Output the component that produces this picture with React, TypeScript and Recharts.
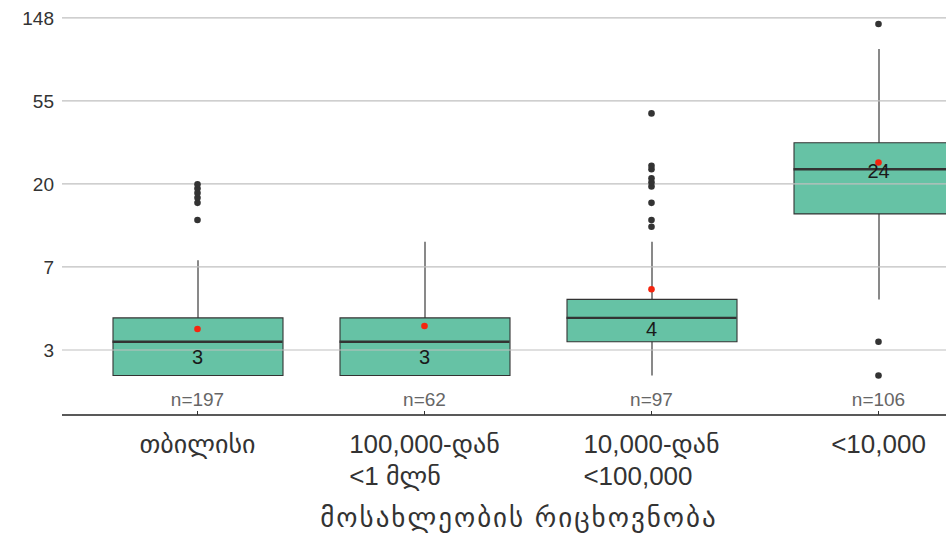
import {
  ComposedChart,
  Bar,
  Scatter,
  XAxis,
  YAxis,
  ReferenceLine,
  Label,
} from "recharts";

// categories (line breaks as in the picture)
const categories = ["თბილისი", "100,000-დან\n<1 მლნ", "10,000-დან\n<100,000", "<10,000"];
const counts = [197, 62, 97, 106];

// box statistics
const whiskerLow = [2, 2, 2, 5];
const q1 = [2, 2, 3, 14];
const medians = [3, 3, 4, 24];
const q3 = [4, 4, 5, 33];
const whiskerHigh = [8, 10, 10, 102];
const means = [3.5, 3.63, 5.65, 26];

const outlierCats = [0, 0, 0, 0, 0, 0, 2, 2, 2, 2, 2, 2, 2, 2, 2, 3, 3, 3];
const outlierVals = [13, 16, 17, 18, 19, 20, 12, 13, 16, 19.5, 20.5, 21.5, 24, 25, 47, 2, 3, 138];

// e^1 .. e^5, shown rounded
const yTicks = [2.718, 7.389, 20.09, 54.6, 148.4];

const FONT = '"Liberation Sans", "DejaVu Sans", sans-serif';
const BOX_W = 170;

const table = categories.map((name, i) => ({
  name,
  box: [q1[i], q3[i]],
  whisker: [whiskerLow[i], whiskerHigh[i]],
}));

const medianPts = categories.map((name, i) => ({ name, value: medians[i] }));
const meanPts = categories.map((name, i) => ({ name, value: means[i] }));
const outlierPts = outlierCats.map((c, i) => ({ name: categories[c], value: outlierVals[i] }));
const medianLabelPts = categories.map((name, i) => ({ name, value: medians[i] - 0.5, label: String(medians[i]) }));
const nLabelPts = categories.map((name, i) => ({ name, value: 1.5, label: `n=${counts[i]}` }));

let ctx: CanvasRenderingContext2D | null = null;
function textWidth(s: string, size: number) {
  if (!ctx) ctx = document.createElement("canvas").getContext("2d");
  if (!ctx) return s.length * size * 0.55;
  ctx.font = `${size}px ${FONT}`;
  return ctx.measureText(s).width;
}

const XTick = ({ x, y, payload }: any) => {
  const lines = String(payload.value).split("\n");
  const size = 26;
  const w = Math.max(...lines.map((l) => textWidth(l, size)));
  return (
    <g>
      {lines.map((l, i) => (
        <text key={i} x={x - w / 2} y={y + 42 + i * 32} textAnchor="start" fontSize={size} fontFamily={FONT} fill="#333">
          {l}
        </text>
      ))}
    </g>
  );
};

const WhiskerShape = ({ x, y, width, height }: any) => (
  <line x1={x + width / 2} x2={x + width / 2} y1={y} y2={y + height} stroke="#4a4a4a" strokeWidth={1.3} />
);

const MedianShape = ({ cx, cy }: any) => (
  <line x1={cx - BOX_W / 2} x2={cx + BOX_W / 2} y1={cy} y2={cy} stroke="#333" strokeWidth={2.4} />
);

const Dot = (color: string) => ({ cx, cy }: any) => <circle cx={cx} cy={cy} r={3.3} fill={color} />;

const TextShape = (size: number, color: string) => ({ cx, cy, payload }: any) => (
  <text x={cx} y={cy} dy="0.35em" textAnchor="middle" fontSize={size} fontFamily={FONT} fill={color}>
    {payload.label}
  </text>
);

export default function App() {
  return (
    <div style={{ position: "absolute", left: 0, top: 0, width: 946, height: 536, overflow: "hidden", background: "#fff" }}>
      <ComposedChart width={1014} height={536} data={table} margin={{ top: 5.5, right: 0, bottom: 0, left: 0 }}>
        <XAxis
          xAxisId={0}
          dataKey="name"
          type="category"
          allowDuplicatedCategory={false}
          padding={{ left: 22, right: 22 }}
          height={121}
          axisLine={{ stroke: "#222", strokeWidth: 1.3 }}
          tickLine={{ stroke: "#333" }}
          tickSize={-4}
          tickMargin={0}
          interval={0}
          tick={<XTick />}
        >
          <Label
            value="მოსახლეობის რიცხოვნობა"
            position="insideBottom"
            offset={9}
            dx={-19}
            fontSize={27}
            letterSpacing={2}
            fontFamily={FONT}
            fill="#333"
          />
        </XAxis>
        <XAxis
          xAxisId={1}
          dataKey="name"
          type="category"
          allowDuplicatedCategory={false}
          padding={{ left: 22, right: 22 }}
          hide
        />
        <YAxis
          type="number"
          scale="log"
          domain={[1.242, 172.4]}
          allowDataOverflow
          ticks={yTicks}
          tickFormatter={(v: number) => String(Math.round(v))}
          width={62}
          axisLine={false}
          tickLine={false}
          tickSize={6}
          tickMargin={2}
          tick={{ fontSize: 19, fontFamily: FONT, fill: "#333" }}
        />
        {yTicks.map((t) => (
          <ReferenceLine key={t} y={t} stroke="#bfbfbf" strokeWidth={1.2} />
        ))}
        <Bar xAxisId={1} dataKey="whisker" barSize={BOX_W} shape={<WhiskerShape />} isAnimationActive={false} />
        <Bar xAxisId={0} dataKey="box" barSize={BOX_W} fill="#66c2a5" stroke="#333" strokeWidth={1.1} isAnimationActive={false} />
        <Scatter data={medianPts} dataKey="value" shape={<MedianShape />} isAnimationActive={false} />
        <Scatter data={medianLabelPts} dataKey="value" shape={TextShape(20, "#1a1a1a")} isAnimationActive={false} />
        <Scatter data={meanPts} dataKey="value" shape={Dot("#f5250f")} isAnimationActive={false} />
        <Scatter data={outlierPts} dataKey="value" shape={Dot("#333")} isAnimationActive={false} />
        <Scatter data={nLabelPts} dataKey="value" shape={TextShape(19, "#666")} isAnimationActive={false} />
      </ComposedChart>
    </div>
  );
}
